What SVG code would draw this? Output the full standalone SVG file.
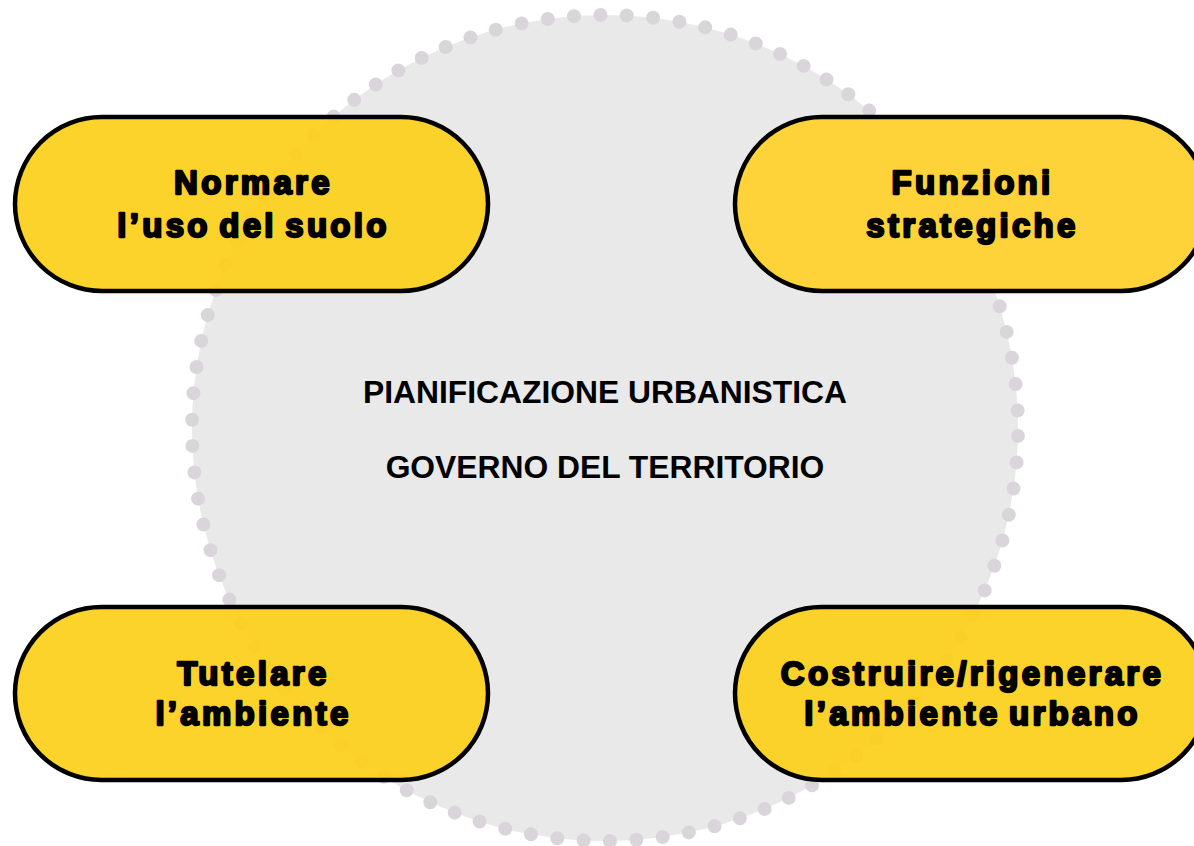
<svg xmlns="http://www.w3.org/2000/svg" width="1194" height="846" viewBox="0 0 1194 846">
  <style>
    .pill { stroke: #000000; stroke-width: 4.5; }
    .pl { fill: #FCD01A; fill-opacity: 0.93; }
    .pr { fill: #FED339; }
    .pt { font-family: "Liberation Sans", Arial, sans-serif; font-weight: bold; font-size: 33px; fill: #000; stroke: #000; stroke-width: 2.3; stroke-linejoin: round; letter-spacing: 3.3px; word-spacing: -4px; text-anchor: middle; }
    .ct { font-family: "Liberation Sans", Arial, sans-serif; font-weight: bold; font-size: 31.8px; fill: #000; text-anchor: middle; }
  </style>
  <rect x="0" y="0" width="1194" height="846" fill="#FFFFFF"/>
  <g id="circle">
    <circle cx="605" cy="428" r="413" fill="#E9E9E9"/>
    <circle cx="605" cy="428" r="413" fill="none" stroke="#DAD5DB" stroke-width="14" stroke-linecap="round" stroke-dasharray="0 26.479" stroke-dashoffset="-8"/>
    <text class="ct" x="605" y="403">PIANIFICAZIONE URBANISTICA</text>
    <text class="ct" x="605" y="478">GOVERNO DEL TERRITORIO</text>
  </g>
  <g id="connectors"></g>
  <g id="node-normare">
    <rect class="pill pl" x="15" y="117" width="473" height="174" rx="87"/>
    <text class="pt" x="253.5" y="194">Normare</text>
    <text class="pt" x="253.5" y="237">l’uso del suolo</text>
  </g>
  <g id="node-funzioni">
    <rect class="pill pr" x="735" y="117" width="473" height="174" rx="87"/>
    <text class="pt" x="972.5" y="194">Funzioni</text>
    <text class="pt" x="972.5" y="237">strategiche</text>
  </g>
  <g id="node-tutelare">
    <rect class="pill pl" x="15" y="607" width="473" height="173" rx="86.5"/>
    <text class="pt" x="253.5" y="685">Tutelare</text>
    <text class="pt" x="253.5" y="725">l’ambiente</text>
  </g>
  <g id="node-costruire">
    <rect class="pill pl" x="735" y="607" width="473" height="173" rx="86.5"/>
    <text class="pt" x="972.5" y="685">Costruire/rigenerare</text>
    <text class="pt" x="972.5" y="725">l’ambiente urbano</text>
  </g>
</svg>
